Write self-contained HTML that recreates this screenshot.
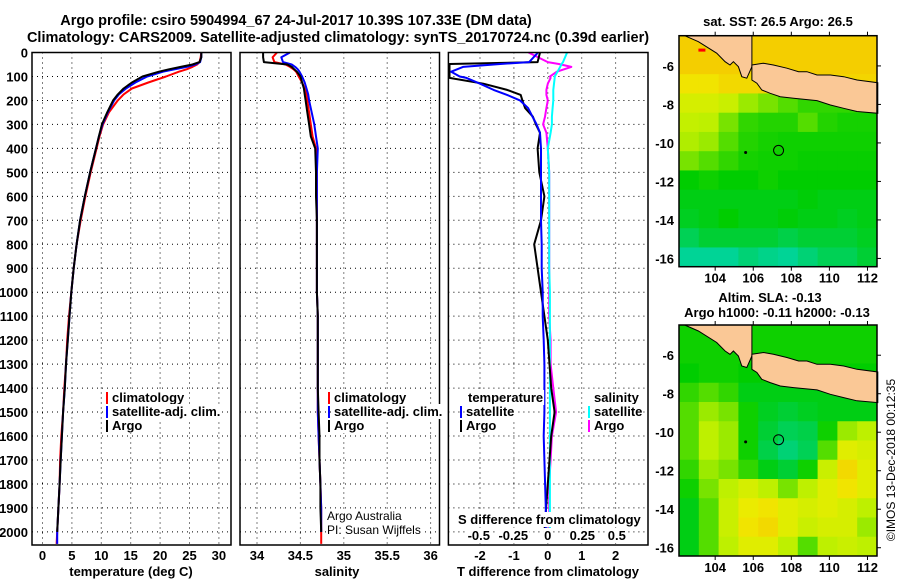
<!DOCTYPE html>
<html><head><meta charset="utf-8"><style>
html,body{margin:0;padding:0;background:#fff;}
svg{display:block;font-family:"Liberation Sans",sans-serif;}
.b{font-weight:bold;font-size:13px;}
</style></head><body>
<svg id="c" width="900" height="580" viewBox="0 0 900 580" xmlns="http://www.w3.org/2000/svg">
<rect width="900" height="580" fill="#fff"/>
<text x="296" y="25" text-anchor="middle" class="b" style="font-size:14.5px">Argo profile: csiro 5904994_67 24-Jul-2017 10.39S 107.33E (DM data)</text>
<text x="338" y="42" text-anchor="middle" class="b" style="font-size:14.5px">Climatology: CARS2009. Satellite-adjusted climatology: synTS_20170724.nc (0.39d earlier)</text>
<g id="g"></g>
</svg>
<script>
// ---------- data ----------
const depths=[0,20,40,50,60,70,80,100,125,150,175,200,250,300,350,400,500,600,700,800,900,1000,1100,1200,1300,1400,1500,1600,1700,1800,1900,2000,2050];
const argoT=[27.0,27.0,26.7,25.5,23.5,21.5,19.8,17.0,15.2,13.8,12.8,12.0,11.0,10.1,9.6,9.1,8.1,7.2,6.4,5.8,5.3,4.9,4.6,4.3,4.0,3.8,3.5,3.3,3.1,2.9,2.7,2.5,null];
const climT=[27.0,26.9,26.7,26.3,25.5,24.5,23.2,21.0,18.0,15.2,13.8,12.8,11.3,10.3,9.7,9.2,8.2,7.3,6.5,5.8,5.3,4.9,4.5,4.2,4.0,3.7,3.5,3.2,3.0,2.9,2.7,2.5,2.4];
const satT=[27.0,27.0,26.8,26.0,24.5,22.5,20.5,17.8,15.8,14.2,13.0,12.2,11.1,10.2,9.6,9.1,8.1,7.2,6.4,5.8,5.3,4.9,4.6,4.3,4.0,3.8,3.5,3.3,3.1,2.9,2.7,2.5,2.5];
const argoS=[34.07,34.07,34.08,34.35,34.40,34.43,34.46,34.50,34.52,34.54,34.55,34.56,34.58,34.60,34.62,34.67,34.68,34.68,34.69,34.69,34.69,34.69,34.70,34.70,34.70,34.70,34.71,34.72,34.72,34.73,34.73,34.74,null];
const climS=[34.23,34.18,34.20,34.33,34.38,34.42,34.45,34.48,34.52,34.55,34.57,34.58,34.60,34.62,34.64,34.68,34.69,34.69,34.69,34.69,34.69,34.69,34.70,34.70,34.70,34.70,34.70,34.71,34.72,34.73,34.74,34.74,34.74];
const satS=[34.38,34.28,34.30,34.40,34.44,34.47,34.49,34.52,34.55,34.57,34.59,34.60,34.63,34.66,34.68,34.70,34.69,34.69,34.69,34.69,34.69,34.69,34.70,34.70,34.70,34.70,34.70,34.71,34.72,34.73,34.74,34.74,null];
const diffDepth=[0,40,48,60,80,100,106,130,156,177,200,232,268,300,335,400,500,600,700,800,900,1000,1100,1200,1300,1400,1500,1600,1700,1800,1900,2000];
const argoDT=[-0.23,-0.3,-2.9,-2.9,-2.9,-2.9,-2.9,-1.9,-1.2,-0.8,-0.75,-0.67,-0.44,-0.35,-0.23,-0.3,-0.25,-0.1,-0.2,-0.4,-0.3,-0.2,-0.1,0.0,0.05,0.1,0.2,0.1,0.05,0.0,-0.05,-0.1];
const satDT=[-0.29,-0.55,-1.4,-2.5,-2.85,-2.6,-2.4,-2.0,-1.6,-1.2,-0.82,-0.58,-0.45,-0.33,-0.23,-0.2,-0.2,-0.2,-0.2,-0.18,-0.18,-0.15,-0.15,-0.12,-0.1,-0.1,-0.1,-0.12,-0.1,-0.08,-0.06,-0.06];
const argoDS=[-0.14,0.0,0.08,0.17,0.065,0.016,0.02,0.0,-0.01,-0.01,0.0,-0.01,-0.02,-0.034,-0.01,0.0,0.01,0.01,0.01,0.01,0.01,0.01,0.01,0.02,0.02,0.04,0.06,0.03,0.02,0.01,0.01,0.01];
const satDS=[0.14,0.11,0.10,0.09,0.07,0.05,0.05,0.045,0.04,0.04,0.04,0.035,0.03,0.03,0.02,0.0,0.01,0.01,0.01,0.01,0.01,0.015,0.015,0.015,0.015,0.015,0.015,0.015,0.015,0.015,0.015,0.015];
const depthTicks=[0,100,200,300,400,500,600,700,800,900,1000,1100,1200,1300,1400,1500,1600,1700,1800,1900,2000];
const tTicks=[0,5,10,15,20,25,30];
const sTicks=[34,34.5,35,35.5,36];
const sTickLabels=["34","34.5","35","35.5","36"];
const dtTicks=[-2,-1,0,1,2];
const dsTicks=[-0.5,-0.25,0,0.25,0.5];
const dsTickLabels=["-0.5","-0.25","0","0.25","0.5"];
const lonTicks=[104,106,108,110,112];
const latTicks=[-6,-8,-10,-12,-14,-16];
const sstGrid=[
[0.95,0.95,0.95,0.95,0.95,0.95,0.95,0.95,0.95,0.95],
[0.95,0.95,0.95,0.95,0.95,0.95,0.95,0.95,0.95,0.95],
[0.85,0.85,0.9,0.9,0.92,0.92,0.92,0.92,0.92,0.92],
[0.7,0.7,0.65,0.55,0.5,0.45,0.4,0.4,0.4,0.4],
[0.62,0.6,0.5,0.4,0.38,0.38,0.45,0.38,0.36,0.36],
[0.58,0.55,0.45,0.38,0.36,0.35,0.35,0.35,0.35,0.35],
[0.5,0.45,0.4,0.36,0.35,0.35,0.34,0.34,0.34,0.34],
[0.33,0.35,0.33,0.33,0.35,0.33,0.33,0.33,0.33,0.33],
[0.3,0.3,0.3,0.3,0.3,0.3,0.32,0.3,0.3,0.3],
[0.28,0.3,0.33,0.3,0.3,0.32,0.3,0.3,0.28,0.3],
[0.2,0.25,0.25,0.25,0.25,0.22,0.25,0.25,0.25,0.28],
[0.1,0.1,0.1,0.15,0.12,0.1,0.15,0.2,0.2,0.25]];
const slaGrid=[
[0.35,0.35,0.35,0.35,0.35,0.35,0.35,0.35,0.35,0.35],
[0.35,0.35,0.35,0.35,0.35,0.35,0.35,0.35,0.35,0.35],
[0.33,0.35,0.35,0.33,0.33,0.33,0.33,0.33,0.33,0.33],
[0.4,0.45,0.4,0.3,0.3,0.3,0.3,0.3,0.3,0.3],
[0.45,0.55,0.5,0.35,0.28,0.25,0.28,0.3,0.3,0.3],
[0.45,0.6,0.55,0.35,0.25,0.2,0.22,0.35,0.55,0.6],
[0.45,0.6,0.55,0.35,0.22,0.15,0.2,0.45,0.75,0.7],
[0.4,0.55,0.5,0.4,0.3,0.25,0.35,0.65,0.9,0.75],
[0.35,0.5,0.6,0.7,0.6,0.5,0.6,0.75,0.85,0.75],
[0.3,0.45,0.65,0.8,0.85,0.75,0.7,0.75,0.7,0.6],
[0.3,0.45,0.65,0.85,0.9,0.75,0.65,0.7,0.7,0.55],
[0.3,0.45,0.6,0.75,0.75,0.6,0.45,0.6,0.65,0.6]];
const sumatra=[[102.4,-4.43],[103.12,-4.74],[104.08,-5.34],[104.52,-5.78],[104.78,-5.95],[104.96,-5.78],[105.22,-6.04],[105.40,-6.56],[105.66,-6.64],[105.93,-6.04],[105.93,-4.43]];
const java=[[105.93,-5.95],[106.54,-5.86],[107.06,-5.95],[107.77,-6.12],[108.38,-6.30],[108.82,-6.30],[109.35,-6.47],[110.05,-6.47],[110.75,-6.56],[111.45,-6.73],[112.54,-6.87],[112.54,-8.46],[111.45,-8.37],[110.75,-8.20],[110.05,-8.03],[109.35,-7.80],[108.12,-7.68],[107.42,-7.60],[106.89,-7.42],[106.45,-7.25],[106.19,-6.90],[105.93,-6.73]];
const argoPos=[107.33,-10.39];
const islandPos=[105.6,-10.5];
// ---------- helpers ----------
const NS='http://www.w3.org/2000/svg';
const G=document.getElementById('g');
function mk(tag,at,parent){const e=document.createElementNS(NS,tag);for(const k in at)e.setAttribute(k,at[k]);(parent||G).appendChild(e);return e;}
function txt(x,y,s,at){const e=mk('text',Object.assign({x:x,y:y},at||{}));e.textContent=s;return e;}
const Y0=52.5,YK=0.2397,YB=545;
const yD=d=>Y0+d*YK;
const panels=[
 {l:32,r:231,x:v=>42.5+v*5.88},
 {l:240,r:439.5,x:v=>257+(v-34)*86.8},
 {l:448.4,r:648,x:v=>547.8+v*33.9}];
const xDS=v=>547.8+v*138;
function dotted(x1,y1,x2,y2,name){const e=mk('line',{x1:x1,y1:y1,x2:x2,y2:y2,stroke:'#000','stroke-width':1,'stroke-dasharray':'1 4'});
 
 }
function series(xf,vals,dep,color,name,xmin){let d='',pen=false;for(let i=0;i<vals.length;i++){if(vals[i]===null){pen=false;continue;}const x=Math.max(xmin,xf(vals[i]));d+=(pen?'L':'M')+x.toFixed(1)+' '+yD(dep[i]).toFixed(1);pen=true;}
 const e=mk('path',{d:d,fill:'none',stroke:color,'stroke-width':2,'stroke-linejoin':'round'});
 
 }
panels.forEach(p=>{depthTicks.forEach(d=>{if(d>0)dotted(p.l,yD(d),p.r,yD(d),'depth-gridline');});});
tTicks.forEach(v=>dotted(panels[0].x(v),Y0,panels[0].x(v),YB,'temp-gridline'));
sTicks.forEach(v=>dotted(panels[1].x(v),Y0,panels[1].x(v),YB,'sal-gridline'));
dtTicks.forEach(v=>dotted(panels[2].x(v),Y0,panels[2].x(v),YB,'tdiff-gridline'));
depthTicks.forEach(d=>{const e=txt(28,yD(d)+5,String(d),{'text-anchor':'end',class:'b'});
 
 });
(function(){const p=panels[0];
 series(p.x,climT,depths,'#f00','temp-climatology-line',p.l);
 series(p.x,satT,depths,'#00f','temp-satellite-line',p.l);
 series(p.x,argoT,depths,'#000','temp-argo-line',p.l);
 const p2=panels[1];
 series(p2.x,climS,depths,'#f00','sal-climatology-line',p2.l);
 series(p2.x,satS,depths,'#00f','sal-satellite-line',p2.l);
 series(p2.x,argoS,depths,'#000','sal-argo-line',p2.l);
 const p3=panels[2];
 series(xDS,argoDS,diffDepth,'#f0f','sdiff-argo-line',p3.l+1);
 series(xDS,satDS,diffDepth,'#0ff','sdiff-satellite-line',p3.l+1);
 series(p3.x,argoDT,diffDepth,'#000','tdiff-argo-line',p3.l+1);
 series(p3.x,satDT,diffDepth,'#00f','tdiff-satellite-line',p3.l+1);
})();
panels.forEach(p=>{const e=mk('rect',{x:p.l,y:Y0,width:p.r-p.l,height:YB-Y0,fill:'none',stroke:'#000','stroke-width':1.5});
 
 });
tTicks.forEach(v=>{const e=txt(panels[0].x(v),560,String(v),{'text-anchor':'middle',class:'b'});
 
 });
sTicks.forEach((v,i)=>{const e=txt(panels[1].x(v),560,sTickLabels[i],{'text-anchor':'middle',class:'b'});
 
 });
dtTicks.forEach(v=>{const e=txt(panels[2].x(v),560,String(v),{'text-anchor':'middle',class:'b'});
 
 });
function bgFor(t,pad){const bb=t.getBBox();const r=document.createElementNS(NS,'rect');
 r.setAttribute('x',bb.x-pad);r.setAttribute('y',bb.y);r.setAttribute('width',bb.width+2*pad);r.setAttribute('height',bb.height);r.setAttribute('fill','#fff');G.insertBefore(r,t);return r;}
function leg(x,y,color,s,name){const e=txt(x+6,y,s,{class:'b'});
 
 
 bgFor(e,1);
 const t=mk('rect',{x:x,y:y-10,width:2,height:12,fill:color});
 
 }
leg(106,402,'#f00','climatology','legend-temp-climatology');
leg(106,416,'#00f','satellite-adj. clim.','legend-temp-satellite');
leg(106,430,'#000','Argo','legend-temp-argo');
leg(328,402,'#f00','climatology','legend-sal-climatology');
leg(328,416,'#00f','satellite-adj. clim.','legend-sal-satellite');
leg(328,430,'#000','Argo','legend-sal-argo');
bgFor(txt(468,402,'temperature',{class:'b',}),1);
bgFor(txt(594,402,'salinity',{class:'b',}),1);
leg(460,416,'#00f','satellite','legend-tdiff-satellite');
leg(460,430,'#000','Argo','legend-tdiff-argo');
leg(588,416,'#0ff','satellite','legend-sdiff-satellite');
leg(588,430,'#f0f','Argo','legend-sdiff-argo');
bgFor(txt(327,520,'Argo Australia',{'font-size':12,}),1);
bgFor(txt(327,534,'PI: Susan Wijffels',{'font-size':12,}),1);
bgFor(txt(458,524,'S difference from climatology',{class:'b',}),1);
dsTicks.forEach((v,i)=>{const e=txt(xDS(v),540,dsTickLabels[i],{'text-anchor':'middle',class:'b'});
 
 
 bgFor(e,1);});
txt(131,576,'temperature (deg C)',{'text-anchor':'middle',class:'b',});
txt(337,576,'salinity',{'text-anchor':'middle',class:'b',});
txt(548,576,'T difference from climatology',{'text-anchor':'middle',class:'b',});
// ---------- maps ----------
const LON0=102.1,LON1=112.5,LAT0=-4.43,LAT1=-16.43;
const stops=[[0,[0,215,215]],[0.33,[0,205,0]],[0.6,[190,240,0]],[0.82,[240,235,0]],[1,[245,195,0]]];
function cmap(v){for(let i=1;i<stops.length;i++){if(v<=stops[i][0]){const a=stops[i-1],b=stops[i],t=(v-a[0])/(b[0]-a[0]);return 'rgb('+a[1].map((c,k)=>Math.round(c+(b[1][k]-c)*t)).join(',')+')';}}return 'rgb(245,195,0)';}
function drawMap(top,grid,name){const L=679,R=877,T=top,B=top+231;
 const mx=lon=>L+(lon-LON0)/(LON1-LON0)*(R-L), my=lat=>T+(lat-LAT0)/(LAT1-LAT0)*(B-T);
 const rows=grid.length,cols=grid[0].length,cw=(R-L)/cols,ch=(B-T)/rows;
 grid.forEach((row,ri)=>row.forEach((v,ci)=>{const e=mk('rect',{x:L+ci*cw,y:T+ri*ch,width:cw+0.5,height:ch+0.5,fill:cmap(v)});
  
  }));
 [sumatra,java].forEach(poly=>{const e=mk('polygon',{points:poly.map(p=>mx(p[0]).toFixed(1)+','+my(p[1]).toFixed(1)).join(' '),fill:'#fac896',stroke:'#000','stroke-width':1});
  
  });
 mk('circle',{cx:mx(islandPos[0]),cy:my(islandPos[1]),r:1.5,fill:'#000'});
 const c=mk('circle',{cx:mx(argoPos[0]),cy:my(argoPos[1]),r:5,fill:'none',stroke:'#000','stroke-width':1});
 
 
 const f=mk('rect',{x:L,y:T,width:R-L,height:B-T,fill:'none',stroke:'#000','stroke-width':1.5});
 
 
 lonTicks.forEach(v=>{mk('line',{x1:mx(v),y1:T,x2:mx(v),y2:T-4,stroke:'#000'});mk('line',{x1:mx(v),y1:B,x2:mx(v),y2:B+4,stroke:'#000'});
  const e=txt(mx(v),B+16,String(v),{'text-anchor':'middle',class:'b'});
  
  });
 latTicks.forEach(v=>{mk('line',{x1:R,y1:my(v),x2:R+4,y2:my(v),stroke:'#000'});
  const e=txt(L-5,my(v)+5,String(v),{'text-anchor':'end',class:'b'});
  
  });
 return {mx:mx,my:my};}
const m1=drawMap(35.7,sstGrid,'sst-map');
mk('rect',{x:m1.mx(103.12),y:m1.my(-5.1),width:7,height:3,fill:'#f00'});
drawMap(325,slaGrid,'sla-map');
txt(778,26,'sat. SST: 26.5 Argo: 26.5',{'text-anchor':'middle',class:'b',});
txt(770,302,'Altim. SLA: -0.13',{'text-anchor':'middle',class:'b',});
txt(777,317,'Argo h1000: -0.11 h2000: -0.13',{'text-anchor':'middle',class:'b',});
txt(0,0,'©IMOS 13-Dec-2018 00:12:35',{'text-anchor':'middle','font-size':12,transform:'translate(895,460) rotate(-90)',});
</script>
</body></html>
